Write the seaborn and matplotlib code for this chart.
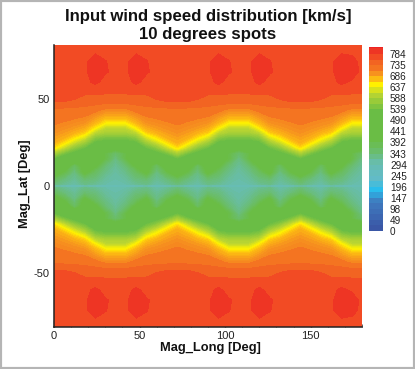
import numpy as np
import seaborn as sns
import matplotlib.pyplot as plt
from matplotlib.colors import LinearSegmentedColormap, Normalize
from matplotlib.patches import Rectangle
from matplotlib.ticker import MultipleLocator

# --- DATA ---
longitudes = np.arange(0, 181, 6)
latitudes_north = [0, 0.8, 4, 8, 12, 16, 19, 22, 25, 28, 31, 34, 37, 40, 44, 49, 54, 60, 66, 72, 78, 81.5]

# wind speed [km/s], one row per latitude; south side is the same as the north in the picture
speed_north = [
    [255] * 31,
    [340,320,305,330,320,305,300,305,320,330,305,320,340,320,305,330,320,305,300,305,320,330,305,320,340,320,305,330,320,305,300],
    [370,340,320,350,340,315,305,315,340,350,320,340,370,340,320,350,340,315,305,315,340,350,320,340,370,340,320,350,340,315,305],
    [440,390,335,410,365,330,310,330,365,410,335,390,440,390,335,410,365,330,310,330,365,410,335,390,440,390,335,410,365,330,310],
    [480,440,365,425,410,350,320,350,410,425,365,440,480,440,365,425,410,350,320,350,410,425,365,440,480,440,365,425,410,350,320],
    [530,500,460,450,430,395,335,395,430,450,460,500,530,500,460,450,430,395,335,395,430,450,460,500,530,500,460,450,430,395,335],
    [590,545,515,490,465,395,355,395,465,490,515,545,590,545,515,490,465,395,355,395,465,490,515,545,590,545,515,490,465,395,355],
    [655,610,560,530,490,440,420,440,490,530,560,610,655,610,560,530,490,440,420,440,490,530,560,610,655,610,560,530,490,440,420],
    [680,655,615,575,520,510,510,510,520,575,615,655,680,655,615,575,520,510,510,510,520,575,615,655,680,655,615,575,520,510,510],
    [690,680,655,625,560,545,545,545,560,625,655,680,690,680,655,625,560,545,545,545,560,625,655,680,690,680,655,625,560,545,545],
    [700,692,680,665,610,590,590,590,610,665,680,692,700,692,680,665,610,590,590,590,610,665,680,692,700,692,680,665,610,590,590],
    [708,702,695,685,655,615,615,615,655,685,695,702,708,702,695,685,655,615,615,615,655,685,695,702,708,702,695,685,655,615,615],
    [714,710,705,700,680,655,655,655,680,700,705,710,714,710,705,700,680,655,655,655,680,700,705,710,714,710,705,700,680,655,655],
    [720,718,714,710,695,680,680,680,695,710,714,718,720,718,714,710,695,680,680,680,695,710,714,718,720,718,714,710,695,680,680],
    [730,728,726,725,718,705,705,705,718,725,726,728,730,728,726,725,718,705,705,705,718,725,726,728,730,728,726,725,718,705,705],
    [760,760,757,750,748,746,745,746,748,750,757,760,760,760,757,750,748,746,745,746,748,750,757,760,760,760,757,750,748,746,745],
    [767,769,769,763,763,762,761,762,763,763,769,769,767,769,769,763,763,762,761,762,763,763,769,769,767,769,769,763,763,762,761],
    [775,775,775,775,790,775,775,775,790,775,775,775,775,775,775,775,790,775,775,775,790,775,775,775,775,775,775,775,790,780,775],
    [777,777,777,777,806,787,777,777,806,787,777,777,777,777,777,777,806,787,777,777,806,787,777,777,777,777,777,777,806,798,777],
    [777,777,777,777,803,785,777,777,803,785,777,777,777,777,777,777,803,785,777,777,803,785,777,777,777,777,777,777,803,793,777],
    [777] * 31,
    [775] * 31,
]

legend_labels = [784, 735, 686, 637, 588, 539, 490, 441, 392, 343, 294, 245, 196, 147, 98, 49, 0]
color_values = [0, 130, 180, 230, 300, 350, 400, 530, 610, 650, 672, 698, 723, 747, 771, 796, 820, 833]
color_hex = ["#3A53A4", "#3F7CBF", "#27BDEE", "#62BBC8", "#68BDB0", "#6ABD70", "#6ABD45", "#6ABD45", "#BDD630",
             "#FFF200", "#FDC010", "#F7941E", "#F47521", "#F26522", "#F24C24", "#EE3624", "#ED2224", "#ED2224"]

# --- SETUP ---
sns.set_theme(style="ticks")
plt.rcParams['font.family'] = ['Liberation Sans', 'DejaVu Sans']

W, H = 415, 369
fig = plt.figure(figsize=(W / 100, H / 100), dpi=100, facecolor="white")
fig.add_artist(Rectangle((0, 0), 1, 1, transform=fig.transFigure, fill=False, edgecolor="#b5b5b5", linewidth=3))

vmax = color_values[-1]
cmap = LinearSegmentedColormap.from_list("tec", [(v / vmax, c) for v, c in zip(color_values, color_hex)], N=512)
band = 24.5
levels = np.arange(0, vmax + band, band)
# smooth below the orange, clear bands above it
field_levels = np.concatenate([np.arange(0, 710.5, band / 4), levels[levels >= 710.5]])
norm = Normalize(0, vmax)

# --- MAIN FIELD ---
ax = fig.add_axes([54 / W, 1 - 327 / H, 308 / W, 282 / H])
north = np.array(speed_north, dtype=float)
lat = np.array(latitudes_north)
lat_all = np.concatenate([-lat[:0:-1], lat])
speed_all = np.vstack([north[:0:-1], north])
ax.contourf(longitudes, lat_all, speed_all, levels=field_levels, cmap=cmap, norm=norm)

ax.set_xlim(0, 180)
ax.set_ylim(-81.5, 81.5)
ax.xaxis.set_major_locator(MultipleLocator(50))
ax.xaxis.set_minor_locator(MultipleLocator(10))
ax.yaxis.set_major_locator(MultipleLocator(50))
ax.yaxis.set_minor_locator(MultipleLocator(10))
ax.tick_params(which="major", direction="in", length=5, width=1, color="#222222", labelsize=8, pad=3, labelcolor="#222222")
ax.tick_params(which="minor", direction="in", length=2.5, width=0.6, color="#444444")
ax.set_yticks([-50, 0, 50])
ax.set_yticklabels(["-50", "0", "50"])
for side in ["top", "right"]:
    ax.spines[side].set_visible(False)
for side in ["left", "bottom"]:
    ax.spines[side].set_linewidth(1.1)
    ax.spines[side].set_color("#222222")

fig.text(210 / W, 1 - 348 / H, "Mag_Long [Deg]", fontsize=9.3, fontweight="bold", ha="center", va="center", color="#111111")
fig.text(25 / W, 1 - 184 / H, "Mag_Lat [Deg]", fontsize=9.3, fontweight="bold", rotation=90, ha="center", va="center", color="#111111")
fig.text(208 / W, 1 - 16 / H, "Input wind speed distribution [km/s]", fontsize=12.1, fontweight="bold", ha="center", va="center", color="#111111")
fig.text(208 / W, 1 - 34 / H, "10 degrees spots", fontsize=12.1, fontweight="bold", ha="center", va="center", color="#111111")

# --- LEGEND STRIP ---
cax = fig.add_axes([369 / W, 1 - 231 / H, 14 / W, 184 / H])
mid = (levels[:-1] + levels[1:]) / 2
sns.heatmap(mid[::-1].reshape(-1, 1), cmap=cmap, vmin=0, vmax=vmax, cbar=False, ax=cax,
            xticklabels=False, yticklabels=False)
n = len(mid)
cax.set_ylim(n, n - 815 / band)
cax.set_yticks([n - v / band for v in legend_labels])
cax.set_yticklabels([str(v) for v in legend_labels], fontsize=7.2, color="#222222")
cax.tick_params(axis="y", length=0, left=False, right=False, labelleft=False, labelright=True, pad=5, rotation=0)

plt.savefig("out.png", dpi=100)
